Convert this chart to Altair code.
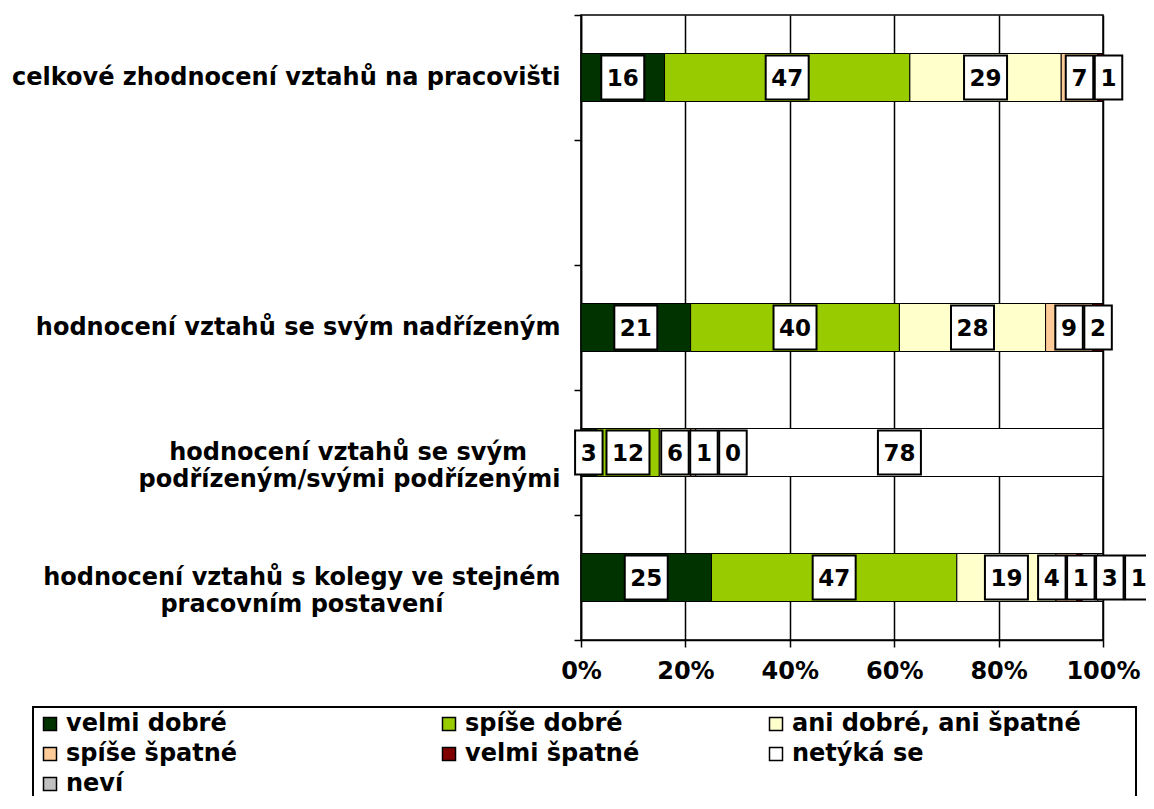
import altair as alt
import pandas as pd

# ---------------- data ----------------
NB = "\u00a0"
WJ = "\u2060"
row_labels = [
    "celkové zhodnocení vztahů na pracovišti",
    "",
    "hodnocení vztahů se svým nadřízeným",
    "hodnocení vztahů se svým" + NB * 4 + WJ + "\npodřízeným/svými podřízenými",
    "hodnocení vztahů s kolegy ve stejném\npracovním postavení" + NB * 14 + WJ,
]
series = ["velmi dobré", "spíše dobré", "ani dobré, ani špatné",
          "spíše špatné", "velmi špatné", "netýká se", "neví"]
colors = ["#003300", "#99CC00", "#FFFFCC", "#FFCC99", "#800000", "#FFFFFF", "#C0C0C0"]

v_celkove = [16, 47, 29, 7, 1, None, None]
v_nadrizeny = [21, 40, 28, 9, 2, None, None]
v_podrizeny = [3, 12, 6, 1, 0, 78, None]
v_kolegove = [25, 47, 19, 4, 1, 3, 1]

rows_values = {
    row_labels[0]: v_celkove,
    row_labels[2]: v_nadrizeny,
    row_labels[3]: v_podrizeny,
    row_labels[4]: v_kolegove,
}

# ---------------- layout constants ----------------
PLOT_W = 522
PLOT_H = 625
PX_PER_PCT = PLOT_W / 100.0
LABEL_FONT = 23
RIGHT_LIMIT_PCT = 109.5   # labels kept inside the chart area
GAP_PX = 1.5


def box_width_px(v):
    return 12 + 15.5 * len(str(v))


bar_rows = []
lab_rows = []
for row, vals in rows_values.items():
    cum = 0.0
    labs = []
    for j, (s, v) in enumerate(zip(series, vals)):
        if v is None:
            continue
        start, end = cum, cum + v
        cum = end
        bar_rows.append({"row": row, "series": s, "start": start, "end": end, "order": j})
        hw = box_width_px(v) / 2 / PX_PER_PCT
        labs.append({"row": row, "value": v, "c": (start + end) / 2, "hw": hw})
    gap = GAP_PX / PX_PER_PCT
    prev_right = -1e9
    for lb in labs:
        left = max(lb["c"] - lb["hw"], prev_right + gap)
        lb["c"] = left + lb["hw"]
        prev_right = left + 2 * lb["hw"]
    limit = RIGHT_LIMIT_PCT
    for lb in reversed(labs):
        right = min(lb["c"] + lb["hw"], limit)
        lb["c"] = right - lb["hw"]
        limit = right - 2 * lb["hw"] - gap
    for lb in labs:
        lab_rows.append({"row": lb["row"], "value": lb["value"], "center": lb["c"],
                         "left": lb["c"] - lb["hw"], "right": lb["c"] + lb["hw"]})

bars = pd.DataFrame(bar_rows)
labels = pd.DataFrame(lab_rows)

FONT = "DejaVu Sans"
y_scale = alt.Scale(domain=row_labels, paddingInner=0, paddingOuter=0)

y_enc = alt.Y(
    "row:N",
    scale=y_scale,
    axis=alt.Axis(
        title=None,
        labelFont=FONT, labelFontWeight="bold", labelFontSize=24, labelColor="black",
        labelAlign="right", labelBaseline="middle", labelLineHeight=27,
        labelExpr="split(datum.label, '\\n')", labelLimit=0, labelPadding=14,
        tickSize=7, tickColor="black", tickWidth=1.5, tickBand="extent",
        domainColor="black", domainWidth=1.5, grid=False,
    ),
)

x_scale = alt.Scale(domain=[0, 100], nice=False)

# legend column spacing: keep the grid columns of the legend box as wide as the original
legend_label_expr = (
    "datum.label == 'spíše špatné' ? datum.label + '" + NB * 9 + WJ + "' : "
    "datum.label == 'ani dobré, ani špatné' ? datum.label + '" + NB * 6 + WJ + "' : datum.label"
)

bar_layer = alt.Chart(bars).mark_bar(
    stroke="black", strokeWidth=1, height={"band": 0.384}, opacity=1
).encode(
    x=alt.X(
        "start:Q", scale=x_scale,
        axis=alt.Axis(
            title=None, values=[0, 20, 40, 60, 80, 100], labelExpr="datum.value + '%'",
            labelFont=FONT, labelFontWeight="bold", labelFontSize=24, labelColor="black",
            labelPadding=12, labelFlush=False, tickSize=7, tickColor="black", tickWidth=1.5,
            domainColor="black", domainWidth=1.5,
            grid=True, gridColor="black", gridWidth=1.5, gridOpacity=1,
        ),
    ),
    x2="end:Q",
    y=y_enc,
    color=alt.Color(
        "series:N",
        scale=alt.Scale(domain=series, range=colors),
        legend=alt.Legend(
            title=None, orient="none", legendX=-548, legendY=692,
            direction="horizontal", columns=3, gridAlign="each",
            columnPadding=124, rowPadding=6,
            symbolType="square", symbolSize=169, symbolStrokeColor="black",
            symbolStrokeWidth=1.5, labelFont=FONT, labelFontWeight="bold",
            labelFontSize=24, labelColor="black", labelLimit=600, labelOffset=4,
            labelExpr=legend_label_expr,
            padding=5, strokeColor="black", fillColor="white",
        ),
    ),
)

box_layer = alt.Chart(labels).mark_bar(
    fill="white", stroke="black", strokeWidth=2, height={"band": 0.352}
).encode(
    x=alt.X("left:Q", scale=x_scale),
    x2="right:Q",
    y=alt.Y("row:N", scale=y_scale),
)

text_layer = alt.Chart(labels).mark_text(
    font=FONT, fontWeight="bold", fontSize=LABEL_FONT, color="black",
    align="center", baseline="middle", dy=1,
).encode(
    x=alt.X("center:Q", scale=x_scale),
    y=alt.Y("row:N", scale=y_scale),
    text="value:Q",
)

chart = alt.layer(bar_layer, box_layer, text_layer).properties(
    width=PLOT_W, height=PLOT_H,
    autosize=alt.AutoSizeParams(type="none"),
    padding={"left": 573, "top": 7, "right": 43, "bottom": 156},
).configure_view(
    stroke="black", strokeWidth=1.5
).configure_legend(
    strokeWidth=2
)

chart.save("out.html", embed_options={"renderer": "svg", "actions": False})
